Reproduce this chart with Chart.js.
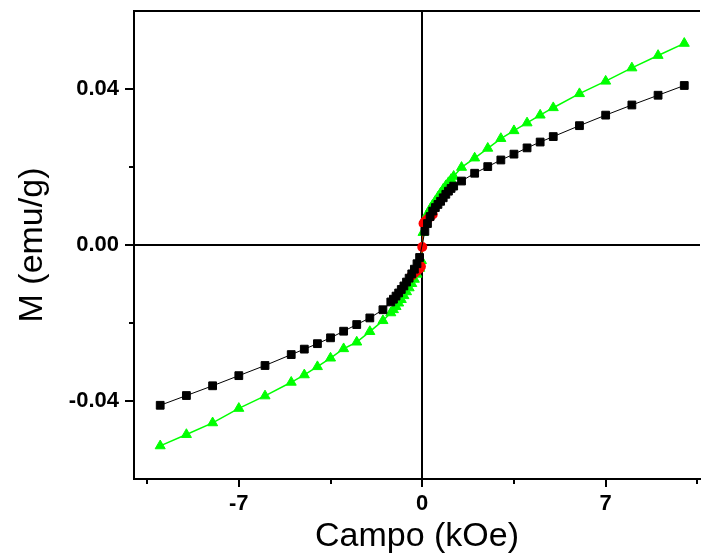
<!DOCTYPE html>
<html>
<head>
<meta charset="utf-8">
<script src="https://cdn.jsdelivr.net/npm/chart.js@4/dist/chart.umd.min.js"></script>
<style>
  body { margin: 0; background: #fff; }
  canvas { display: block; }
</style>
</head>
<body>
<canvas id="loopChart" width="702" height="554"></canvas>
<script>
// field in kOe, magnetisation in emu/g
const blackField = [-10, -9, -8, -7, -6, -5, -4.5, -4, -3.5, -3, -2.5, -2, -1.5,
  -1.2, -1.1, -1.0, -0.9, -0.8, -0.7, -0.6, -0.5, -0.4, -0.3, -0.2, -0.1,
  0.1, 0.2, 0.3, 0.4, 0.5, 0.6, 0.7, 0.8, 0.9, 1.0, 1.1, 1.2,
  1.5, 2, 2.5, 3, 3.5, 4, 4.5, 5, 6, 7, 8, 9, 10];
const blackM = [-0.0411, -0.0386, -0.0361, -0.0335, -0.0309, -0.0281, -0.0267, -0.0253, -0.0238, -0.0221, -0.0204, -0.0187, -0.0166,
  -0.0146, -0.0139, -0.0131, -0.0123, -0.0114, -0.0105, -0.0095, -0.0085, -0.0074, -0.0062, -0.0048, -0.0032,
  0.0035, 0.0055, 0.0073, 0.0087, 0.0096, 0.0104, 0.0112, 0.0121, 0.0130, 0.0138, 0.0145, 0.0151,
  0.0164, 0.0184, 0.0201, 0.0218, 0.0233, 0.0249, 0.0264, 0.0278, 0.0306, 0.0333, 0.0359, 0.0384, 0.0409];

const redField = [-0.4, -0.3, -0.2, -0.1, -0.05, 0, 0.05, 0.1, 0.2, 0.3, 0.4];
const redM = [-0.0078, -0.0072, -0.0066, -0.0060, -0.0055, -0.0005, 0.0055, 0.0060, 0.0066, 0.0072, 0.0078];

const greenField = [-10, -9, -8, -7, -6, -5, -4.5, -4, -3.5, -3, -2.5, -2, -1.5,
  -1.2, -1.1, -1.0, -0.9, -0.8, -0.7, -0.6, -0.5, -0.4, -0.3, -0.2, -0.1, -0.03,
  0.03, 0.1, 0.2, 0.3, 0.4, 0.5, 0.6, 0.7, 0.8, 0.9, 1.0, 1.1, 1.2,
  1.5, 2, 2.5, 3, 3.5, 4, 4.5, 5, 6, 7, 8, 9, 10];
const greenM = [-0.0515, -0.0486, -0.0456, -0.0419, -0.0387, -0.0352, -0.0333, -0.0312, -0.0290, -0.0266, -0.0249, -0.0222, -0.0194,
  -0.0174, -0.0166, -0.0158, -0.0149, -0.0140, -0.0130, -0.0120, -0.0110, -0.0099, -0.0088, -0.0075, -0.0060, -0.0040,
  0.0032, 0.0065, 0.0080, 0.0092, 0.0103, 0.0113, 0.0123, 0.0133, 0.0143, 0.0152, 0.0160, 0.0168, 0.0176,
  0.0199, 0.0223, 0.0248, 0.0273, 0.0293, 0.0313, 0.0333, 0.0352, 0.0388, 0.0420, 0.0454, 0.0486, 0.0517];

const xTicks = [-7, 0, 7];
const xMinorTicks = [-10.5, -3.5, 3.5, 10.5];
const yTicks = [-0.04, 0, 0.04];
const yMinorTicks = [-0.02, 0.02];

function toPoints(xs, ys) {
    return xs.map((v, i) => ({ x: v, y: ys[i] }));
}

// top border line and the short minor ticks
const framePlugin = {
    id: "frame",
    afterDraw(chart) {
        const { ctx, chartArea: a, scales } = chart;
        ctx.save();
        ctx.strokeStyle = "#000";
        ctx.lineWidth = 2;
        ctx.beginPath();
        ctx.moveTo(a.left - 1, a.top);
        ctx.lineTo(a.right, a.top);
        xMinorTicks.forEach(v => {
            const px = Math.round(scales.x.getPixelForValue(v));
            if (px <= a.right) {
                ctx.moveTo(px, a.bottom);
                ctx.lineTo(px, a.bottom + 5);
            }
        });
        yMinorTicks.forEach(v => {
            const py = Math.round(scales.y.getPixelForValue(v));
            ctx.moveTo(a.left, py);
            ctx.lineTo(a.left - 5, py);
        });
        ctx.stroke();
        ctx.restore();
    }
};

const zeroLine = c => (c.tick && c.tick.value === 0) ? "#000" : "rgba(0,0,0,0)";

new Chart(document.getElementById("loopChart").getContext("2d"), {
    type: "scatter",
    data: {
        datasets: [
            {
                data: toPoints(blackField, blackM),
                showLine: true,
                borderColor: "#000",
                borderWidth: 1,
                pointStyle: "rect",
                pointRadius: 5.5,
                pointBorderWidth: 1,
                pointBackgroundColor: "#000",
                pointBorderColor: "#000"
            },
            {
                data: toPoints(redField, redM),
                showLine: true,
                borderColor: "#ff0000",
                borderWidth: 1,
                pointStyle: "circle",
                pointRadius: 5,
                pointBorderWidth: 0,
                pointBackgroundColor: "#ff0000"
            },
            {
                data: toPoints(greenField, greenM),
                showLine: true,
                borderColor: "#00ff00",
                borderWidth: 1.5,
                pointStyle: "triangle",
                pointRadius: 5.8,
                pointBorderWidth: 1,
                pointBackgroundColor: "#00ff00",
                pointBorderColor: "#00ff00"
            }
        ]
    },
    options: {
        responsive: false,
        animation: false,
        layout: { autoPadding: false, padding: { top: 11, right: 2, left: 0, bottom: 0 } },
        plugins: {
            legend: { display: false },
            tooltip: { enabled: false }
        },
        scales: {
            x: {
                type: "linear",
                min: -11,
                max: 10.6,
                afterBuildTicks: s => { s.ticks = xTicks.map(v => ({ value: v })); },
                afterFit: s => { s.height = 75; s.paddingLeft = 0; s.paddingRight = 0; },
                border: { display: true, color: "#000", width: 2 },
                grid: { color: zeroLine, lineWidth: 2, tickColor: "#000", tickWidth: 2, tickLength: 8 },
                ticks: {
                    color: "#000",
                    padding: 4,
                    maxRotation: 0,
                    font: { family: "Arial", weight: "bold", size: 22 },
                    callback: v => String(v)
                },
                title: {
                    display: true,
                    text: "Campo (kOe)",
                    color: "#000",
                    padding: { top: 0, bottom: -3 },
                    font: { family: "Arial", size: 34 }
                }
            },
            y: {
                type: "linear",
                min: -0.06,
                max: 0.06,
                afterBuildTicks: s => { s.ticks = yTicks.map(v => ({ value: v })); },
                afterFit: s => { s.width = 134; s.paddingTop = 0; s.paddingBottom = 0; },
                border: { display: true, color: "#000", width: 2 },
                grid: { color: zeroLine, lineWidth: 2, tickColor: "#000", tickWidth: 2, tickLength: 9 },
                ticks: {
                    color: "#000",
                    padding: 6,
                    font: { family: "Arial", weight: "bold", size: 22 },
                    callback: v => v.toFixed(2)
                },
                title: {
                    display: true,
                    text: "M (emu/g)",
                    color: "#000",
                    padding: { top: 12, bottom: 0 },
                    font: { family: "Arial", size: 34 }
                }
            }
        }
    },
    plugins: [framePlugin]
});
</script>
</body>
</html>
